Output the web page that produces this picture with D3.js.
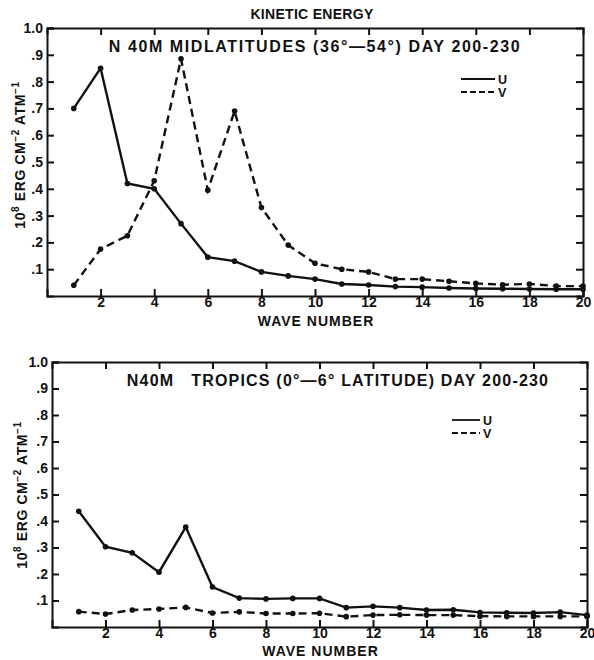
<!DOCTYPE html>
<html lang="en">
<head>
  <meta charset="utf-8">
  <title>Kinetic energy</title>
  <script src="https://cdn.jsdelivr.net/npm/d3@7"></script>
  <style>
    body {
      margin: 0;
      background: #fff;
    }

    text {
      font-family: "Liberation Sans", Arial, sans-serif;
      font-weight: bold;
      fill: #111;
    }

    .axis path, .axis line {
      stroke: #111;
      stroke-width: 2;
    }
  </style>
</head>

<body>
  <svg width="594" height="660"></svg>
  <script>

  // wave numbers 1..20
  var waves = d3.range(1, 21);

  // midlatitudes panel
  var midU = [0.70, 0.85, 0.42, 0.40, 0.27, 0.145, 0.13, 0.09, 0.075, 0.063,
              0.045, 0.041, 0.035, 0.033, 0.030, 0.028, 0.027, 0.026, 0.025, 0.025];
  var midV = [0.04, 0.175, 0.225, 0.43, 0.885, 0.395, 0.69, 0.33, 0.19, 0.122,
              0.10, 0.09, 0.063, 0.063, 0.055, 0.047, 0.042, 0.045, 0.037, 0.037];

  // tropics panel
  var tropU = [0.437, 0.303, 0.28, 0.207, 0.377, 0.151, 0.109, 0.106, 0.108, 0.108,
               0.073, 0.078, 0.073, 0.064, 0.065, 0.055, 0.054, 0.053, 0.056, 0.045];
  var tropV = [0.058, 0.049, 0.064, 0.068, 0.074, 0.053, 0.057, 0.051, 0.051, 0.052,
               0.039, 0.045, 0.046, 0.045, 0.045, 0.041, 0.040, 0.040, 0.040, 0.040];

  var yTicks = [0.1, 0.2, 0.3, 0.4, 0.5, 0.6, 0.7, 0.8, 0.9, 1.0];
  var xTicks = [2, 4, 6, 8, 10, 12, 14, 16, 18, 20];

  var svg = d3.select("svg");

  // header above both panels
  svg.append("text")
      .attr("x", 312)
      .attr("y", 19)
      .attr("text-anchor", "middle")
      .style("font-size", "14px")
      .style("letter-spacing", "0.3px")
      .text("KINETIC ENERGY");

  function yFormat(d) {
    return d === 1 ? "1.0" : d3.format(".1f")(d).replace(/^0/, "");
  }

  function drawPanel(p) {
    var x = d3.scaleLinear().domain([0, 20]).range([p.left, p.right]);
    var y = d3.scaleLinear().domain([0, 1]).range([p.bottom, p.top]);

    var g = svg.append("g");

    // frame axes, ticks pointing inward
    g.append("g").attr("class", "axis")
        .attr("transform", "translate(" + p.left + ",0)")
        .call(d3.axisLeft(y).tickValues(yTicks).tickSize(-7).tickPadding(4).tickFormat(yFormat));
    g.append("g").attr("class", "axis")
        .attr("transform", "translate(" + p.right + ",0)")
        .call(d3.axisRight(y).tickValues(yTicks.slice(0, 9)).tickSize(-7).tickFormat(""));
    g.append("g").attr("class", "axis")
        .attr("transform", "translate(0," + p.bottom + ")")
        .call(d3.axisBottom(x).tickValues(xTicks).tickSize(-7).tickPadding(1));
    g.append("g").attr("class", "axis")
        .attr("transform", "translate(0," + p.top + ")")
        .call(d3.axisTop(x).tickValues(xTicks.slice(0, 9)).tickSize(-7).tickFormat(""));

    g.selectAll(".axis .domain").attr("stroke-width", 2.2);
    g.selectAll(".axis text").style("font-size", "14px").attr("fill", "#111");

    // series
    var line = d3.line()
        .x(function(d, i) { return x(waves[i]); })
        .y(function(d) { return y(d); });

    var series = [
      { vals: p.u, dash: null },
      { vals: p.v, dash: "8,5" }
    ];

    series.forEach(function(s) {
      g.append("path")
          .datum(s.vals)
          .attr("fill", "none")
          .attr("stroke", "#111")
          .attr("stroke-width", 2.4)
          .attr("stroke-dasharray", s.dash)
          .attr("d", line);

      g.selectAll(null)
          .data(s.vals)
          .enter().append("circle")
          .attr("cx", function(d, i) { return x(waves[i]); })
          .attr("cy", function(d) { return y(d); })
          .attr("r", 2.8)
          .attr("fill", "#111");
    });

    // subtitle
    g.append("text")
        .attr("x", p.titleX)
        .attr("y", p.top + 24)
        .attr("text-anchor", "middle")
        .style("font-size", "16px")
        .style("letter-spacing", p.titleSpacing)
        .style("white-space", "pre")
        .attr("xml:space", "preserve")
        .text(p.title);

    // legend
    var lg = g.append("g").attr("transform", "translate(" + p.legX + "," + p.legY + ")");
    lg.append("line").attr("x1", 0).attr("x2", p.legW).attr("y1", 0).attr("y2", 0)
        .attr("stroke", "#111").attr("stroke-width", 1.8);
    lg.append("line").attr("x1", 0).attr("x2", p.legW).attr("y1", 13).attr("y2", 13)
        .attr("stroke", "#111").attr("stroke-width", 1.8).attr("stroke-dasharray", "6,3");
    lg.append("text").attr("x", p.legW + 3).attr("y", 5).style("font-size", "12.5px").text("U");
    lg.append("text").attr("x", p.legW + 3).attr("y", 18).style("font-size", "12.5px").text("V");

    // axis titles
    g.append("text")
        .attr("x", (p.left + p.right) / 2 + 1)
        .attr("y", p.bottom + p.xlabDy)
        .attr("text-anchor", "middle")
        .style("font-size", "14px")
        .style("letter-spacing", "1px")
        .text("WAVE NUMBER");

    var yl = g.append("text")
        .attr("transform", "translate(" + p.ylabX + "," + p.ylabY + ") rotate(-90)")
        .attr("text-anchor", "middle")
        .style("font-size", "14px")
        .style("letter-spacing", "0.6px");
    yl.append("tspan").text("10");
    yl.append("tspan").attr("dy", -6).style("font-size", "10px").text("8");
    yl.append("tspan").attr("dy", 6).text(" ERG CM");
    yl.append("tspan").attr("dy", -6).style("font-size", "10px").text("\u22122");
    yl.append("tspan").attr("dy", 6).text(" ATM");
    yl.append("tspan").attr("dy", -6).style("font-size", "10px").text("\u22121");
  }

  drawPanel({
    left: 47, right: 583, top: 28, bottom: 296,
    u: midU, v: midV,
    title: "N 40M MIDLATITUDES (36\u00b0\u201454\u00b0) DAY 200-230",
    titleX: 315, titleSpacing: "1.6px",
    legX: 461, legY: 79, legW: 34,
    xlabDy: 30,
    ylabX: 25, ylabY: 155
  });

  drawPanel({
    left: 52, right: 587, top: 362, bottom: 627,
    u: tropU, v: tropV,
    title: "N40M   TROPICS (0\u00b0\u20146\u00b0 LATITUDE) DAY 200-230",
    titleX: 338, titleSpacing: "1.2px",
    legX: 452, legY: 420, legW: 28,
    xlabDy: 29,
    ylabX: 27, ylabY: 495
  });

  </script>
</body>
</html>
